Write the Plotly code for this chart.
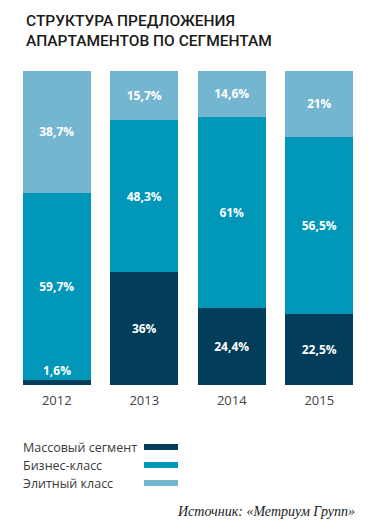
import plotly.graph_objects as go

years = ["2012", "2013", "2014", "2015"]
mass = [1.6, 36, 24.4, 22.5]
business = [59.7, 48.3, 61, 56.5]
elite = [38.7, 15.7, 14.6, 21]
labels_mass = ["1,6%", "36%", "24,4%", "22,5%"]
labels_business = ["59,7%", "48,3%", "61%", "56,5%"]
labels_elite = ["38,7%", "15,7%", "14,6%", "21%"]
series_names = ["Массовый сегмент", "Бизнес-класс", "Элитный класс"]
colors = ["#023e5a", "#0097b9", "#74b6d0"]

# page offset introduced by the default body margin
OFF = 8
W, H = 373 - OFF, 532 - OFF
fig = go.Figure()

def txt(labels, vals, min_val=5):
    return [l if v >= min_val else "" for l, v in zip(labels, vals)]

for vals, labs, name, col in zip([mass, business, elite],
                                 [labels_mass, labels_business, labels_elite],
                                 series_names, colors):
    fig.add_trace(go.Bar(
        x=years, y=vals, name=name, marker=dict(color=col, line=dict(width=0)),
        text=txt(labs, vals), textposition="inside", insidetextanchor="middle",
        textfont=dict(family="Open Sans", size=12, color="white", weight=700),
        showlegend=False, hoverinfo="skip"))

# small-segment label placed just above the segment (category index as x)
for i, (v, l) in enumerate(zip(mass, labels_mass)):
    if v < 5:
        fig.add_annotation(x=i, y=v, text=f"<b>{l}</b>", showarrow=False,
                           yanchor="bottom", yshift=-1,
                           font=dict(family="Open Sans", size=12, color="white"))

# plot area in page pixels
plot_l, plot_r, plot_t, plot_b = 13, 363, 71, 385
def px_x(px):
    return (px - plot_l) / (plot_r - plot_l)
def px_y(py):
    return (plot_b - py) / (plot_b - plot_t)

# title
fig.add_annotation(xref="paper", yref="paper", x=px_x(24), y=px_y(10),
                   xanchor="left", yanchor="top",
                   text="СТРУКТУРА ПРЕДЛОЖЕНИЯ<br>АПАРТАМЕНТОВ ПО СЕГМЕНТАМ",
                   align="left", showarrow=False,
                   font=dict(family="Roboto", size=15.5,
                             color="#1a1a1a", weight=500))

leg_y = [447, 465, 483]
for name, col, yy in zip(series_names, colors, leg_y):
    fig.add_annotation(xref="paper", yref="paper", x=px_x(21), y=px_y(yy),
                       xanchor="left", yanchor="middle", text=name, showarrow=False,
                       font=dict(family="Open Sans", size=12.5, color="#3a3a3a"))
    fig.add_shape(type="rect", xref="paper", yref="paper",
                  x0=px_x(144), x1=px_x(178), y0=px_y(yy + 3), y1=px_y(yy - 3),
                  fillcolor=col, line=dict(width=0))

fig.add_annotation(xref="paper", yref="paper", x=px_x(357), y=px_y(511),
                   xanchor="right", yanchor="middle",
                   text="<i>Источник: «Метриум Групп»</i>", showarrow=False,
                   font=dict(family="Liberation Serif", size=14, color="#1a1a1a"))

fig.update_layout(
    width=W, height=H, barmode="stack", bargap=0.223,
    margin=dict(l=plot_l - OFF, r=(W + OFF) - plot_r, t=plot_t - OFF,
                b=(H + OFF) - plot_b, autoexpand=False),
    paper_bgcolor="white", plot_bgcolor="white",
    uniformtext=dict(minsize=12, mode="show"),
    xaxis=dict(type="category", showgrid=False, showline=False, zeroline=False,
               ticks="outside", ticklen=3, tickcolor="rgba(0,0,0,0)",
               automargin=False,
               tickfont=dict(family="Open Sans", size=13, color="#444")),
    yaxis=dict(range=[0, 100], visible=False, showgrid=False, automargin=False),
)
fig.write_html("out.html", config=dict(displayModeBar=False))
